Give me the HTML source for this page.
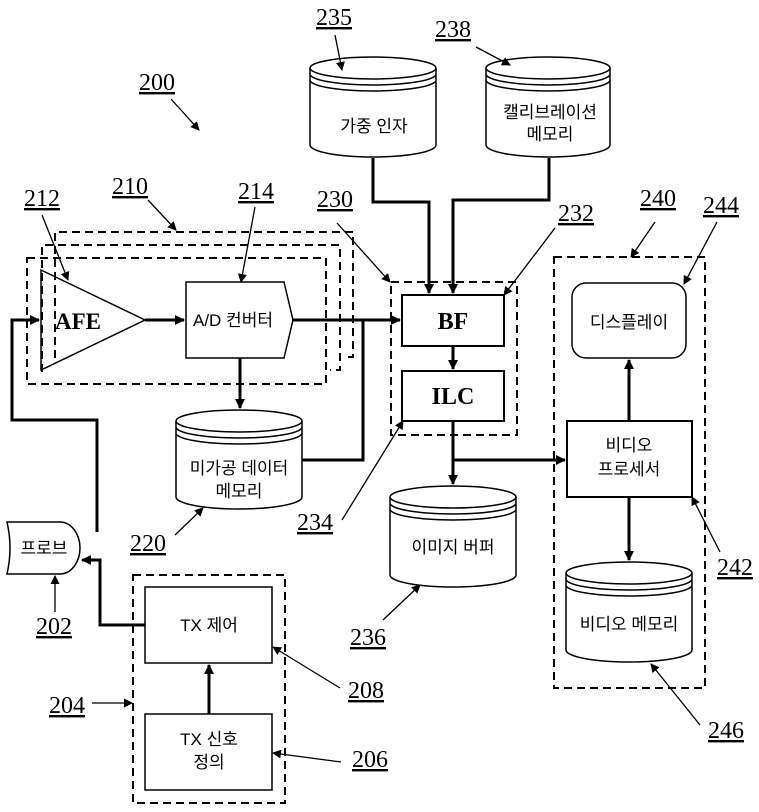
<!DOCTYPE html>
<html><head><meta charset="utf-8"><style>
html,body{margin:0;padding:0;background:#fff;}
svg{display:block;}
.n{font-family:"Liberation Serif",serif;font-size:24px;fill:#000;text-decoration:underline;}
.k{font-family:"Liberation Sans","Noto Sans CJK KR","NanumGothic",sans-serif;font-size:17px;fill:#000;}
.b{font-family:"Liberation Serif",serif;font-size:24px;font-weight:bold;fill:#000;}
</style></head><body>
<svg width="759" height="812" viewBox="0 0 759 812" xmlns="http://www.w3.org/2000/svg">
<defs>
<marker id="a" markerWidth="10" markerHeight="10" refX="9" refY="5" orient="auto" markerUnits="userSpaceOnUse"><path d="M0,0 L10,5 L0,10 z" fill="#000"/></marker>
<marker id="s" markerWidth="9" markerHeight="9" refX="8" refY="4.5" orient="auto" markerUnits="userSpaceOnUse"><path d="M0,0 L9,4.5 L0,9 z" fill="#000"/></marker>
</defs>
<g fill="none" stroke="#000">
<g stroke-width="2" stroke-dasharray="8,5">
<path d="M55,358 V232 H353 V357 H345"/>
<path d="M42,372 V245 H340 V370 H330"/>
<rect x="27" y="258" width="299" height="126"/>
<rect x="391" y="282" width="126" height="153"/>
<rect x="554" y="257" width="151" height="431"/>
<rect x="133" y="575" width="152" height="228"/>
</g>
<path d="M41,270 L145,320 L41,370 Z" stroke-width="1.5"/>
<path d="M186,282 H284 L293,320 L284,358 H186 Z" stroke-width="1.5"/>
<rect x="402" y="295" width="102" height="51" stroke-width="2"/>
<rect x="402" y="371" width="102" height="50" stroke-width="2"/>
<rect x="572" y="283" width="114" height="75" rx="14" stroke-width="1.5"/>
<rect x="567" y="421" width="125" height="76" stroke-width="2"/>
<rect x="145" y="587" width="127" height="76" stroke-width="1.5"/>
<rect x="145" y="714" width="127" height="76" stroke-width="1.5"/>
<path d="M7,522 H60 A20,26 0 0 1 60,574 H7 Q13,548 7,522 Z" stroke-width="1.5"/>
<g stroke-width="1.5">
<ellipse cx="373" cy="68" rx="63" ry="11"/><path d="M310,68 V145 A63,12 0 0 0 436,145 V68 M310,74 A63,11 0 0 0 436,74 M310,80 A63,11 0 0 0 436,80"/>
<ellipse cx="548" cy="68" rx="62" ry="11"/><path d="M486,68 V145 A62,12 0 0 0 610,145 V68 M486,74 A62,11 0 0 0 610,74 M486,80 A62,11 0 0 0 610,80"/>
<ellipse cx="239" cy="421" rx="63" ry="11"/><path d="M176,421 V497 A63,12 0 0 0 302,497 V421 M176,427 A63,11 0 0 0 302,427 M176,433 A63,11 0 0 0 302,433"/>
<ellipse cx="453" cy="497" rx="63" ry="11"/><path d="M390,497 V575 A63,12 0 0 0 516,575 V497 M390,503 A63,11 0 0 0 516,503 M390,509 A63,11 0 0 0 516,509"/>
<ellipse cx="629" cy="573" rx="63" ry="11"/><path d="M566,573 V650 A63,12 0 0 0 692,650 V573 M566,579 A63,11 0 0 0 692,579 M566,585 A63,11 0 0 0 692,585"/>
</g>
<g stroke-width="3">
<path d="M145,320 H184" marker-end="url(#a)"/>
<path d="M293,320 H400" marker-end="url(#a)"/>
<path d="M97,532 V420 H12 V320 H39" marker-end="url(#a)"/>
<path d="M240,358 V408" marker-end="url(#a)"/>
<path d="M302,460 H363 V320"/>
<path d="M373,158 V202 H429 V293" marker-end="url(#a)"/>
<path d="M549,158 V200 H453 V293" marker-end="url(#a)"/>
<path d="M453,346 V369" marker-end="url(#a)"/>
<path d="M453,421 V484" marker-end="url(#a)"/>
<path d="M453,460 H565" marker-end="url(#a)"/>
<path d="M629,421 V360" marker-end="url(#a)"/>
<path d="M629,497 V560" marker-end="url(#a)"/>
<path d="M209,714 V665" marker-end="url(#a)"/>
<path d="M145,625 H100 V560 H82" marker-end="url(#a)"/>
</g>
<g stroke-width="1.3">
<path d="M171,99 L199,130" marker-end="url(#s)"/>
<path d="M42,215 L68,280" marker-end="url(#s)"/>
<path d="M148,200 L176,230" marker-end="url(#s)"/>
<path d="M255,207 L241,282" marker-end="url(#s)"/>
<path d="M337,223 L390,282" marker-end="url(#s)"/>
<path d="M335,35 L342,70" marker-end="url(#s)"/>
<path d="M476,47 L510,65" marker-end="url(#s)"/>
<path d="M555,228 L504,295" marker-end="url(#s)"/>
<path d="M655,222 L631,257" marker-end="url(#s)"/>
<path d="M717,222 L684,284" marker-end="url(#s)"/>
<path d="M175,535 L203,508" marker-end="url(#s)"/>
<path d="M342,520 L403,421" marker-end="url(#s)"/>
<path d="M55,612 V576" marker-end="url(#s)"/>
<path d="M92,703 L132,703" marker-end="url(#s)"/>
<path d="M340,688 L273,647" marker-end="url(#s)"/>
<path d="M341,762 L273,753" marker-end="url(#s)"/>
<path d="M383,620 L420,585" marker-end="url(#s)"/>
<path d="M720,552 L692,497" marker-end="url(#s)"/>
<path d="M700,725 L651,664" marker-end="url(#s)"/>
</g>
</g>
<text class="n" x="139" y="90">200</text>
<text class="n" x="24" y="206">212</text>
<text class="n" x="112" y="194">210</text>
<text class="n" x="238" y="199">214</text>
<text class="n" x="317" y="207">230</text>
<text class="n" x="316" y="25">235</text>
<text class="n" x="435" y="37">238</text>
<text class="n" x="558" y="221">232</text>
<text class="n" x="640" y="206">240</text>
<text class="n" x="703" y="213">244</text>
<text class="n" x="130" y="551">220</text>
<text class="n" x="297" y="530">234</text>
<text class="n" x="36" y="634">202</text>
<text class="n" x="49" y="713">204</text>
<text class="n" x="348" y="698">208</text>
<text class="n" x="352" y="767">206</text>
<text class="n" x="350" y="645">236</text>
<text class="n" x="717" y="575">242</text>
<text class="n" x="708" y="738">246</text>
<text class="b" x="55" y="329" style="font-size:23px">AFE</text>
<text class="k" x="193" y="326">A/D 컨버터</text>
<text class="b" x="453" y="329" text-anchor="middle">BF</text>
<text class="b" x="453" y="404" text-anchor="middle">ILC</text>
<text class="k" x="374" y="132" text-anchor="middle">가중 인자</text>
<text class="k" x="550" y="118" text-anchor="middle">캘리브레이션</text>
<text class="k" x="550" y="140" text-anchor="middle">메모리</text>
<text class="k" x="239" y="474" text-anchor="middle">미가공 데이터</text>
<text class="k" x="239" y="497" text-anchor="middle">메모리</text>
<text class="k" x="453" y="553" text-anchor="middle">이미지 버퍼</text>
<text class="k" x="629" y="328" text-anchor="middle">디스플레이</text>
<text class="k" x="629" y="451" text-anchor="middle">비디오</text>
<text class="k" x="629" y="475" text-anchor="middle">프로세서</text>
<text class="k" x="629" y="630" text-anchor="middle">비디오 메모리</text>
<text class="k" x="209" y="631" text-anchor="middle">TX 제어</text>
<text class="k" x="209" y="745" text-anchor="middle">TX 신호</text>
<text class="k" x="209" y="768" text-anchor="middle">정의</text>
<text class="k" x="44" y="554" text-anchor="middle">프로브</text>
</svg>
</body></html>
